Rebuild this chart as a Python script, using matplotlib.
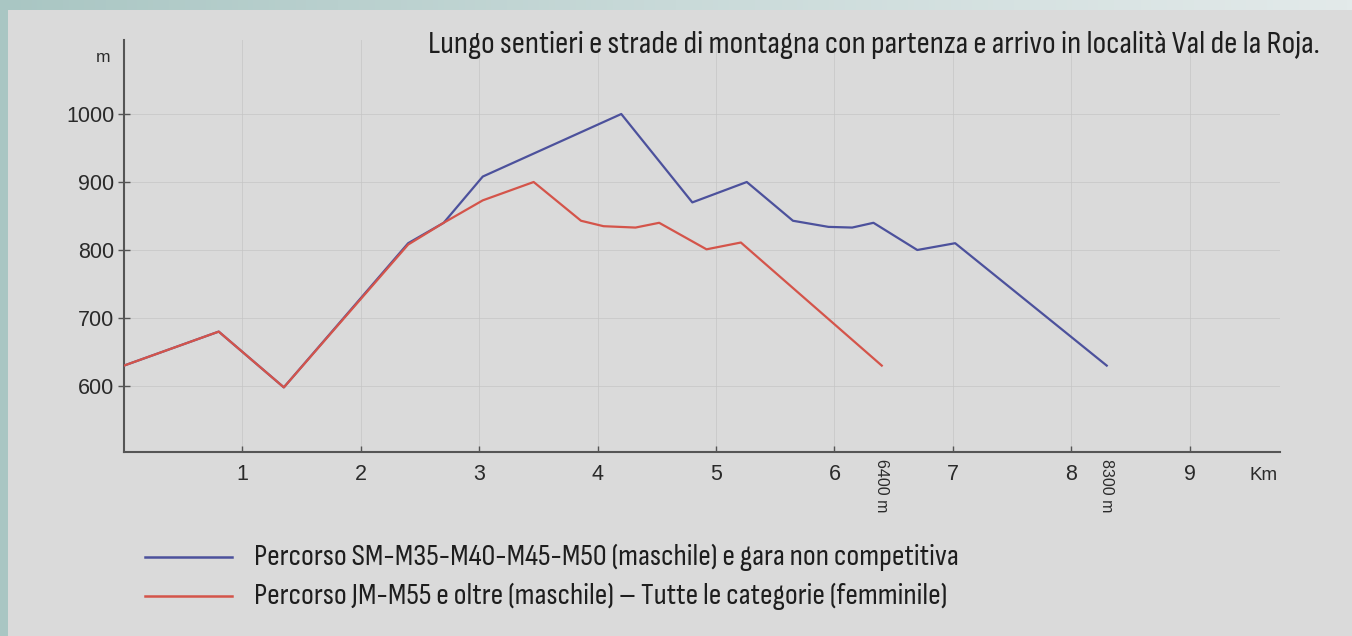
import matplotlib.pyplot as plt
from matplotlib.patches import Rectangle
from matplotlib.colors import LinearSegmentedColormap
import numpy as np
import logging

logging.getLogger('matplotlib.font_manager').setLevel(logging.ERROR)

# Elevation profiles (km, m)
km_long = [0, 0.8, 1.35, 2.4, 2.7, 3.03, 4.2, 4.8, 5.26, 5.65, 5.95, 6.15, 6.33, 6.7, 7.02, 8.3]
m_long = [630, 680, 598, 810, 840, 908, 1000, 870, 900, 843, 834, 833, 840, 800, 810, 630]

km_short = [0, 0.8, 1.35, 2.4, 2.7, 3.03, 3.46, 3.86, 4.05, 4.32, 4.52, 4.92, 5.21, 6.4]
m_short = [630, 680, 598, 808, 840, 873, 900, 843, 835, 833, 840, 801, 811, 630]

x_ticks = [1, 2, 3, 4, 5, 6, 7, 8, 9]
y_ticks = [600, 700, 800, 900, 1000]
end_marks = [6.4, 8.3]
end_labels = ['6400 m', '8300 m']

title = 'Lungo sentieri e strade di montagna con partenza e arrivo in località Val de la Roja.'
legend_labels = ['Percorso SM-M35-M40-M45-M50 (maschile) e gara non competitiva',
                 'Percorso JM-M55 e oltre (maschile) \u2013 Tutte le categorie (femminile)']

blue = '#4c519c'
red = '#d4544a'
narrow = ['Sofia Sans Condensed', 'Roboto Condensed', 'Barlow Condensed', 'DejaVu Sans']
plt.rcParams['font.family'] = ['Liberation Sans', 'Arimo', 'DejaVu Sans']

fig = plt.figure(figsize=(13.52, 6.36), dpi=100)
fig.patch.set_facecolor('#dadada')

# teal frame on the top and left
grad = np.linspace(0, 1, 256).reshape(1, -1)
bar_ax = fig.add_axes([0, 1 - 10 / 636, 1, 10 / 636])
bar_ax.imshow(grad, aspect='auto',
              cmap=LinearSegmentedColormap.from_list('tl', ['#a9c6c3', '#c9dad9', '#e3eaea']))
bar_ax.axis('off')
fig.patches.append(Rectangle((0, 0), 8 / 1352, 1, transform=fig.transFigure,
                             facecolor='#a9c6c3', edgecolor='none', zorder=0))

ax = fig.add_axes([124 / 1352, 1 - 452 / 636, (1280 - 124) / 1352, (452 - 40) / 636])
ax.set_facecolor('none')
ax.set_xlim(0, (1280 - 124) / 118.4)
ax.set_ylim(600 - (452 - 386) / 0.68, 600 + (386 - 40) / 0.68)

ax.plot(km_long, m_long, color=blue, lw=1.6, zorder=3)
ax.plot(km_short, m_short, color=red, lw=1.6, zorder=4)

ax.set_xticks(x_ticks)
ax.set_yticks(y_ticks)
ax.tick_params(axis='x', direction='in', length=4, width=1, color='#555555',
               labelsize=15.5, labelcolor='#2a2a2a', pad=9)
ax.tick_params(axis='y', direction='inout', length=8, width=1, color='#555555',
               labelsize=15.5, labelcolor='#2a2a2a', pad=3)
ax.grid(True, color='#c4c4c4', lw=0.7, alpha=0.7)
for s in ['top', 'right']:
    ax.spines[s].set_visible(False)
for s in ['left', 'bottom']:
    ax.spines[s].set_color('#555555')
    ax.spines[s].set_linewidth(1.5)

fig.text(103 / 1352, 1 - 57 / 636, 'm', ha='center', va='center', fontsize=12.5, color='#2a2a2a')
fig.text(1264 / 1352, 1 - 475 / 636, 'Km', ha='center', va='center', fontsize=13.5, color='#2a2a2a')

for xv, lab in zip(end_marks, end_labels):
    ax.annotate(lab, xy=(xv, 0), xycoords=('data', 'axes fraction'), xytext=(0, -5),
                textcoords='offset points', rotation=-90, ha='center', va='top',
                fontsize=11.5, color='#2a2a2a')

renderer = fig.canvas.get_renderer()


def fit_text(t, target_px):
    # scale the font so the text spans the same width as in the reference
    w = t.get_window_extent(renderer).width
    t.set_fontsize(t.get_fontsize() * target_px / w)


t_title = fig.text(1320 / 1352, 1 - 45 / 636, title, ha='right', va='center', fontsize=22,
                   family=narrow, color='#1e1e1e')
fit_text(t_title, 892)

legend_texts = []
for i, (lab, col) in enumerate(zip(legend_labels, [blue, red])):
    yy = 1 - (557 + 39 * i) / 636
    fig.add_artist(plt.Line2D([145 / 1352, 232 / 1352], [yy, yy], color=col, lw=1.8,
                              transform=fig.transFigure))
    legend_texts.append(fig.text(254 / 1352, yy, lab, ha='left', va='center', fontsize=19,
                                 family=narrow, color='#1e1e1e'))
fit_text(legend_texts[0], 705)
legend_texts[1].set_fontsize(legend_texts[0].get_fontsize())

fig.savefig('out.png', dpi=100, facecolor=fig.get_facecolor())
